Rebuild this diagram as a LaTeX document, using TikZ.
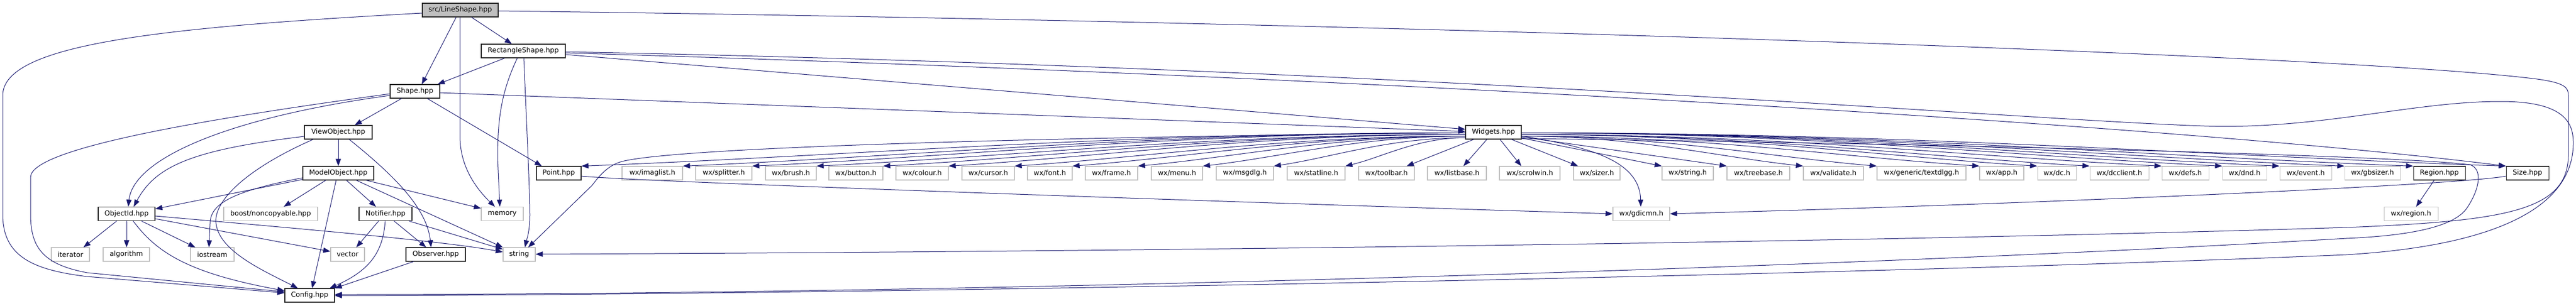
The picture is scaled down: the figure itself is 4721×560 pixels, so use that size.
\documentclass[tikz,border=0pt]{standalone}
\usepackage{fontspec}
\setmainfont{DejaVu Sans}
\usetikzlibrary{arrows.meta,calc}
\definecolor{edgec}{HTML}{191970}
\definecolor{extc}{HTML}{BFBFBF}
\definecolor{projc}{HTML}{262626}
\tikzset{
  box/.style={rectangle, inner sep=0pt, minimum height=25pt, font=\fontsize{12.6pt}{15pt}\selectfont, line width=1.1pt, fill=white},
  proj/.style={box, draw=projc},
  ext/.style={box, draw=extc},
  rootbox/.style={box, draw=projc, fill=extc},
  edge/.style={draw=edgec, line width=1pt, -{Triangle[length=13pt,width=9.5pt]}},
}
\newcommand\fanto[2]{\draw[edge] (#1) .. controls ($(#1)!0.4!(#2|-#1)$) and ($(#2)!0.3!(#1)$) .. (#2);}
\begin{document}
\begin{tikzpicture}[x=1pt,y=-1pt]
\useasboundingbox (0,0) rectangle (4721,560);
\fill[white] (0,0) rectangle (4721,560);
% rank 0-3
\node[rootbox, minimum width=139pt] (LineShape) at (843.5,18.5) {src/LineShape.hpp};
\node[proj, minimum width=154pt] (RectangleShape) at (959,93.5) {RectangleShape.hpp};
\node[proj, minimum width=91pt] (Shape) at (760.5,167.5) {Shape.hpp};
\node[proj, minimum width=124pt] (ViewObject) at (620,242.5) {ViewObject.hpp};
\node[proj, minimum width=102pt] (Widgets) at (2737,242.5) {Widgets.hpp};
% rank 4
\node[proj, minimum width=130pt] (ModelObject) at (620,317.5) {ModelObject.hpp};
\node[proj, minimum width=82pt] (Point) at (1024,317.5) {Point.hpp};
\node[ext, minimum width=111pt] (imaglist) at (1195.5,317.5) {wx/imaglist.h};
\node[ext, minimum width=103pt] (splitter) at (1326.5,317.5) {wx/splitter.h};
\node[ext, minimum width=93pt] (brush) at (1449.5,317.5) {wx/brush.h};
\node[ext, minimum width=99pt] (button) at (1568.5,317.5) {wx/button.h};
\node[ext, minimum width=96pt] (colour) at (1690,317.5) {wx/colour.h};
\node[ext, minimum width=96pt] (cursor) at (1811,317.5) {wx/cursor.h};
\node[ext, minimum width=82pt] (font) at (1924,317.5) {wx/font.h};
\node[ext, minimum width=96pt] (frame) at (2037,317.5) {wx/frame.h};
\node[ext, minimum width=94pt] (menu) at (2157,317.5) {wx/menu.h};
\node[ext, minimum width=105pt] (msgdlg) at (2281.5,317.5) {wx/msgdlg.h};
\node[ext, minimum width=106pt] (statline) at (2412,317.5) {wx/statline.h};
\node[ext, minimum width=102pt] (toolbar) at (2541,317.5) {wx/toolbar.h};
\node[ext, minimum width=108pt] (listbase) at (2670,317.5) {wx/listbase.h};
\node[ext, minimum width=111pt] (scrolwin) at (2803.5,317.5) {wx/scrolwin.h};
\node[ext, minimum width=85pt] (sizer) at (2926.5,317.5) {wx/sizer.h};
\node[ext, minimum width=94pt] (wxstring) at (3093,317.5) {wx/string.h};
\node[ext, minimum width=115pt] (treebase) at (3222.5,317.5) {wx/treebase.h};
\node[ext, minimum width=110pt] (validate) at (3360,317.5) {wx/validate.h};
\node[ext, minimum width=163pt] (textdlgg) at (3521.5,317.5) {wx/generic/textdlgg.h};
\node[ext, minimum width=81pt] (app) at (3668.5,317.5) {wx/app.h};
\node[ext, minimum width=71pt] (dc) at (3769.5,317.5) {wx/dc.h};
\node[ext, minimum width=108pt] (dcclient) at (3884,317.5) {wx/dcclient.h};
\node[ext, minimum width=86pt] (defs) at (4005,317.5) {wx/defs.h};
\node[ext, minimum width=81pt] (dnd) at (4113.5,317.5) {wx/dnd.h};
\node[ext, minimum width=95pt] (event) at (4225.5,317.5) {wx/event.h};
\node[ext, minimum width=102pt] (gbsizer) at (4348,317.5) {wx/gbsizer.h};
\node[proj, minimum width=95pt] (Region) at (4470.5,317.5) {Region.hpp};
\node[proj, minimum width=78pt] (Size) at (4632,317.5) {Size.hpp};
% rank 5
\node[proj, minimum width=104pt] (ObjectId) at (232,392) {ObjectId.hpp};
\node[ext, minimum width=172pt] (boost) at (496,392) {boost/noncopyable.hpp};
\node[proj, minimum width=97pt] (Notifier) at (706.5,392) {Notifier.hpp};
\node[ext, minimum width=77pt] (memory) at (920.5,392) {memory};
\node[ext, minimum width=104pt] (gdicmn) at (3008,392) {wx/gdicmn.h};
\node[ext, minimum width=99pt] (region) at (4418.5,392) {wx/region.h};
% rank 6
\node[ext, minimum width=70pt] (iterator) at (129,466.5) {iterator};
\node[ext, minimum width=85pt] (algorithm) at (231.5,466.5) {algorithm};
\node[ext, minimum width=80pt] (iostream) at (389,466.5) {iostream};
\node[ext, minimum width=62pt] (vector) at (637,466.5) {vector};
\node[proj, minimum width=109pt] (Observer) at (798.5,466.5) {Observer.hpp};
\node[ext, minimum width=59pt] (string) at (951.5,466.5) {string};
% rank 7
\node[proj, minimum width=91pt] (Config) at (567.5,541.5) {Config.hpp};

% ---- LineShape.hpp
\draw[edge] (LineShape.south -| 836,0) -- (Shape.north -| 773,0);
\draw[edge] (LineShape.south -| 864,0) -- (RectangleShape.north -| 938,0);
\draw[edge] (LineShape.south -| 843,0) -- (843,250) .. controls (843,305) and (872,345) .. (memory.north -| 907,0);
\draw[edge] (LineShape.west |- 0,24) .. controls (300,50) and (5,80) .. (5,175) -- (5,393) .. controls (5,470) and (60,495) .. (160,507) -- (Config.west |- 0,537);
\draw[edge] (LineShape.east |- 0,20) .. controls (2500,40) and (4300,100) .. (4650,145) .. controls (4700,152) and (4707,160) .. (4707,175) -- (4707,283) .. controls (4707,385) and (4600,405) .. (4300,417) .. controls (3400,445) and (2000,462) .. (string.east |- 0,466);
% ---- RectangleShape.hpp
\draw[edge] (RectangleShape.south -| 925,0) -- (Shape.north -| 802,0);
\draw[edge] (RectangleShape.south -| 948,0) .. controls (918,170) and (912,220) .. (912,290) -- (memory.north -| 916,0);
\draw[edge] (RectangleShape.south -| 960,0) .. controls (966,250) and (971,350) .. (971,395) .. controls (971,425) and (965,440) .. (string.north -| 962,0);
\draw[edge] (RectangleShape.east |- 0,100) -- (Widgets.west |- 0,237);
\draw[edge] (RectangleShape.east |- 0,97) .. controls (2500,140) and (4000,230) .. (Size.north west);
\draw[edge] (RectangleShape.east |- 0,95) .. controls (2600,125) and (3700,220) .. (4040,231) .. controls (4250,238) and (4420,186) .. (4583,186) .. controls (4700,186) and (4716,225) .. (4716,262) .. controls (4716,390) and (4550,452) .. (4300,467) .. controls (3400,505) and (1600,540) .. (Config.east |- 0,542);
% ---- Shape.hpp
\draw[edge] (Shape.south -| 736,0) -- (ViewObject.north -| 650,0);
\draw[edge] (Shape.west |- 0,175) .. controls (420,215) and (245,290) .. (ObjectId.north -| 235,0);
\draw[edge] (Shape.west |- 0,172) .. controls (400,215) and (56,270) .. (56,325) -- (56,393) .. controls (56,455) and (80,485) .. (160,500) -- (Config.west |- 0,535);
\draw[edge] (Shape.south -| 783,0) -- (Point.north -| 993,0);
\draw[edge] (Shape.east |- 0,170) -- (Widgets.west |- 0,241);
% ---- ViewObject.hpp
\draw[edge] (ViewObject.south) -- (ModelObject.north);
\draw[edge] (ViewObject.west |- 0,250) .. controls (350,275) and (285,305) .. (ObjectId.north -| 245,0);
\draw[edge] (ViewObject.south -| 574,0) .. controls (450,310) and (390,370) .. (396,410) .. controls (402,460) and (480,495) .. (Config.north -| 546,0);
\draw[edge] (ViewObject.south -| 640,0) .. controls (720,320) and (782,380) .. (Observer.north -| 790,0);
% ---- ModelObject.hpp
\draw[edge] (ModelObject.west |- 0,329) -- (ObjectId.east |- 0,383);
\draw[edge] (ModelObject.west |- 0,326) .. controls (430,350) and (385,372) .. (385,410) -- (iostream.north -| 383,0);
\draw[edge] (ModelObject.south -| 597,0) -- (boost.north -| 520,0);
\draw[edge] (ModelObject.south -| 616,0) -- (Config.north -| 572,0);
\draw[edge] (ModelObject.south -| 635,0) -- (Notifier.north -| 689,0);
\draw[edge] (ModelObject.south -| 653,0) -- (string.north west);
\draw[edge] (ModelObject.south -| 671,0) -- (memory.west |- 0,382);
% ---- ObjectId.hpp
\draw[edge] (ObjectId.south -| 214,0) -- (iterator.north -| 153,0);
\draw[edge] (ObjectId.south -| 232,0) -- (algorithm.north -| 232,0);
\draw[edge] (ObjectId.south -| 244,0) .. controls (285,460) and (340,500) .. (Config.west |- 0,533);
\draw[edge] (ObjectId.south -| 259,0) -- (iostream.north -| 358,0);
\draw[edge] (ObjectId.east |- 0,401) -- (vector.west |- 0,461);
\draw[edge] (ObjectId.east |- 0,396) .. controls (500,415) and (800,440) .. (string.west |- 0,462);
% ---- Notifier.hpp
\draw[edge] (Notifier.south -| 694,0) -- (vector.north -| 653,0);
\draw[edge] (Notifier.south -| 706,0) .. controls (702,460) and (680,495) .. (Config.north -| 604,0);
\draw[edge] (Notifier.south -| 722,0) -- (Observer.north -| 781,0);
\draw[edge] (Notifier.south -| 749,0) -- (string.west |- 0,457);
% ---- Observer.hpp
\draw[edge] (Observer.south -| 758,0) -- (Config.north east);
% ---- Point, Size, Region
\draw[edge] (Point.east |- 0,323) .. controls (1200,335) and (2400,375) .. (gdicmn.west |- 0,392);
\draw[edge] (Size.west |- 0,323) .. controls (4500,340) and (3700,375) .. (gdicmn.east |- 0,392);
\draw[edge] (Region.south -| 4461,0) -- (region.north -| 4428,0);
% ---- Widgets.hpp
\coordinate (wl1) at ($(Widgets.west)+(0,1)$);
\coordinate (wl2) at ($(Widgets.west)+(0,4)$);
\coordinate (wl3) at ($(Widgets.west)+(0,7)$);
\coordinate (wl4) at ($(Widgets.west)+(0,10)$);
\coordinate (wr1) at ($(Widgets.east)+(0,1)$);
\coordinate (wr2) at ($(Widgets.east)+(0,4)$);
\coordinate (wr3) at ($(Widgets.east)+(0,7)$);
\fanto{wl1}{Point.north east}
\fanto{wl1}{imaglist.north east}
\fanto{wl1}{splitter.north east}
\fanto{wl2}{brush.north east}
\fanto{wl2}{button.north east}
\fanto{wl2}{colour.north east}
\fanto{wl3}{cursor.north east}
\fanto{wl3}{font.north east}
\fanto{wl3}{frame.north east}
\fanto{wl3}{menu.north east}
\fanto{wl4}{msgdlg.north east}
\fanto{wl4}{statline.north east}
\draw[edge] (wl1) .. controls (2000,250) and (1250,268) .. (1140,296) .. controls (1115,303) and (1100,320) .. (1085,340) -- (string.north -| 968,0);
\draw[edge] (Widgets.south -| 2701,0) -- (toolbar.north -| 2578,0);
\draw[edge] (Widgets.south -| 2725,0) -- (listbase.north -| 2682,0);
\draw[edge] (Widgets.south -| 2749,0) -- (scrolwin.north -| 2788,0);
\draw[edge] (Widgets.south -| 2770,0) -- (sizer.north -| 2892,0);
\draw[edge] (Widgets.east |- 0,253) -- (wxstring.north west);
\draw[edge] (Widgets.east |- 0,251) -- (treebase.north west);
\fanto{wr3}{validate.north west}
\fanto{wr3}{textdlgg.north west}
\fanto{wr3}{app.north west}
\fanto{wr2}{dc.north west}
\fanto{wr2}{dcclient.north west}
\fanto{wr2}{defs.north west}
\fanto{wr1}{dnd.north west}
\fanto{wr1}{event.north west}
\fanto{wr1}{gbsizer.north west}
\fanto{wr1}{Region.north west}
\fanto{wr1}{Size.north west}
\draw[edge] (Widgets.east |- 0,249) .. controls (2900,268) and (3005,290) .. (gdicmn.north -| 3007,0);
\draw[edge] (Widgets.east |- 0,254) .. controls (3500,262) and (4400,285) .. (4527,302) .. controls (4550,310) and (4545,345) .. (4522,380) .. controls (4500,415) and (4420,432) .. (4300,437) .. controls (3400,490) and (1800,540) .. (Config.east |- 0,540);
\end{tikzpicture}
\end{document}
